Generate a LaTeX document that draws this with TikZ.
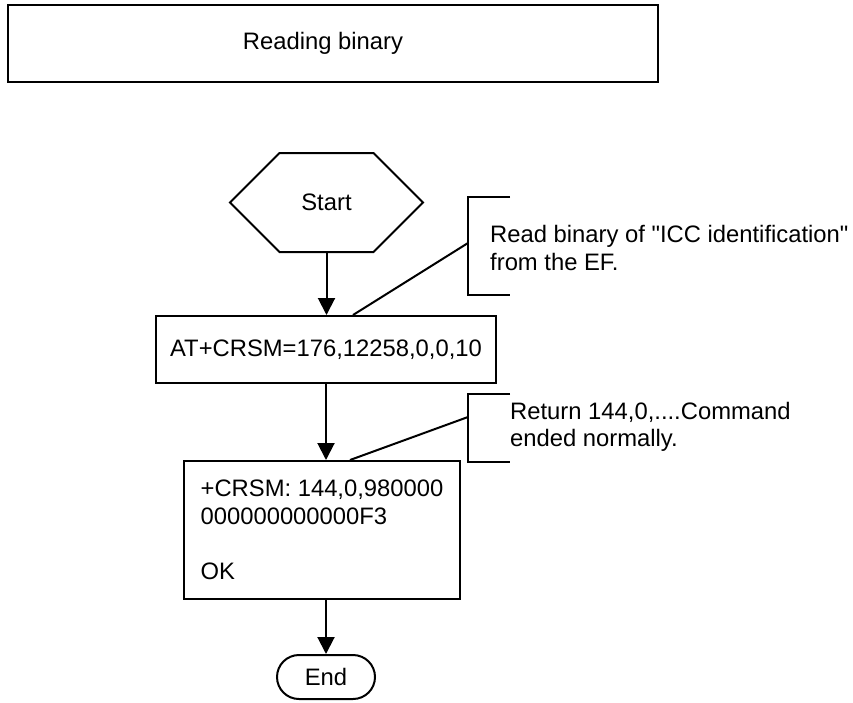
\documentclass[tikz,border=0pt]{standalone}
\usepackage{fontspec}
\setmainfont{Liberation Sans}[Ligatures=TeXOff]
\usetikzlibrary{arrows.meta,shapes.symbols}

\begin{document}
\begin{tikzpicture}[x=1pt,y=-1pt,
  font=\fontsize{23.8}{27.5}\selectfont,
  kasten/.style={draw,line width=2pt,rectangle},
  pfeil/.style={line width=2pt,-{Triangle[length=17pt,width=17pt]}},
  klammer/.style={line width=2pt}]
\useasboundingbox (0,0) rectangle (853,702);
% Titel
\draw[line width=2.8pt] (8,5) rectangle (658,82);
\node (titel) at (323,43) {Reading binary};

% Ablauf
\node[draw,line width=2pt,signal,signal to=west and east,signal pointer angle=90,
  minimum width=193,minimum height=99] (start) at (326.5,202.5) {Start};
\node[kasten,minimum width=340,minimum height=67] (cmd) at (326,349.5) {AT+CRSM=176,12258,0,0,10};
\node[kasten,minimum width=276,minimum height=138,align=left] (resp) at (322,530)
  {+CRSM: 144,0,980000\\000000000000F3\\[27.5pt]OK};
\node[draw,line width=2pt,rounded corners=22pt,minimum width=98,minimum height=44] (ende) at (326,677) {End};

% Pfeile
\draw[pfeil] (start.south) -- (start.south |- cmd.north);
\draw[pfeil] (cmd.south) -- (cmd.south |- resp.north);
\draw[pfeil] (ende.north |- resp.south) -- (ende.north);

% Anmerkungen
\node[anchor=west,inner sep=0,align=left] (notiz1) at (490,248)
  {Read binary of "ICC identification"\\from the EF.};
\draw[klammer] (510,197) -- (468,197) -- (468,295) -- (510,295);
\coordinate (k1) at (468,243);
\draw[klammer] (k1) -- ([xshift=27]cmd.north);

\node[anchor=west,inner sep=0,align=left] (notiz2) at (510,427)
  {Return 144,0,....Command\\ended normally.};
\draw[klammer] (510,394) -- (468,394) -- (468,462) -- (510,462);
\coordinate (k2) at (468,417);
\draw[klammer] (k2) -- ([xshift=28]resp.north);
\end{tikzpicture}
\end{document}
